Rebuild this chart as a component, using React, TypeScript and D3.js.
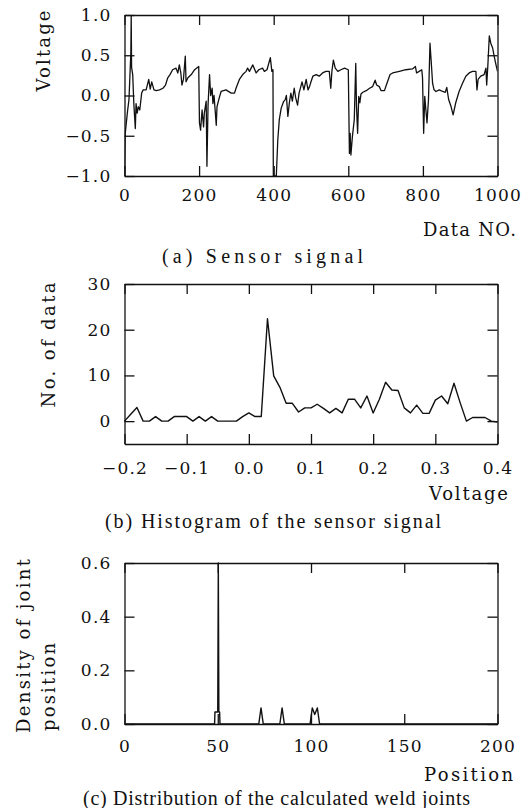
import React, { useEffect, useRef } from 'react'
import * as d3 from 'd3'

// (a) sensor signal: [data no., voltage] vertices
const sensorSignal: [number, number][] = [
  [0, -1.0], [2, -0.47], [8, -0.2], [12, -0.05], [15, 0.3], [17, 0.53], [18, 1.0], [19, 0.35],
  [22, 0.26], [25, -0.1], [29, -0.41], [31, -0.1], [34, -0.22], [37, -0.14], [41, -0.18], [46, 0.03],
  [50, 0.07], [58, 0.07], [65, 0.2], [69, 0.08], [73, 0.17], [79, 0.07], [85, 0.06], [94, 0.07],
  [103, 0.09], [110, 0.13], [116, 0.22], [122, 0.26], [129, 0.32], [138, 0.34], [143, 0.28], [147, 0.38],
  [151, 0.28], [154, 0.13], [158, 0.2], [163, 0.49], [165, 0.17], [170, 0.22], [179, 0.26], [188, 0.32],
  [199, 0.36], [201, -0.34], [204, -0.43], [208, -0.18], [212, -0.39], [214, -0.22], [219, -0.07], [221, -0.88],
  [224, -0.12], [228, 0.26], [231, 0.0], [235, 0.09], [237, -0.1], [240, 0.0], [243, -0.18], [246, -0.37],
  [248, -0.14], [254, -0.03], [259, 0.05], [272, 0.07], [286, 0.03], [295, 0.03], [299, 0.09], [308, 0.2],
  [317, 0.26], [326, 0.3], [330, 0.34], [335, 0.3], [344, 0.38], [353, 0.28], [360, 0.32], [370, 0.34],
  [375, 0.3], [382, 0.32], [391, 0.47], [395, 0.3], [398, 0.32], [399, -1.0], [407, -1.0], [411, -0.55],
  [415, -0.3], [420, -0.16], [426, -0.08], [431, -0.05], [434, 0.0], [438, -0.26], [442, -0.09], [446, 0.03],
  [450, -0.07], [455, 0.09], [459, -0.03], [464, -0.12], [468, 0.03], [476, 0.17], [481, 0.07], [487, 0.2],
  [492, 0.07], [496, 0.11], [500, 0.17], [505, 0.24], [514, 0.26], [522, 0.24], [531, 0.28], [540, 0.3],
  [549, 0.3], [553, 0.09], [556, 0.3], [560, 0.44], [565, 0.34], [572, 0.3], [580, 0.32], [590, 0.34],
  [600, 0.32], [603, -0.72], [605, -0.47], [607, -0.74], [611, -0.51], [616, -0.3], [620, 0.4], [622, -0.14],
  [625, -0.47], [628, -0.01], [631, -0.09], [634, 0.02], [639, 0.04], [648, 0.06], [657, 0.09], [665, 0.11],
  [672, 0.19], [676, 0.13], [683, 0.11], [688, 0.06], [697, 0.06], [702, 0.13], [712, 0.26], [719, 0.28],
  [737, 0.3], [754, 0.32], [772, 0.33], [780, 0.36], [783, 0.28], [790, 0.3], [797, 0.32], [799, 0.22],
  [802, -0.47], [805, -0.01], [808, -0.18], [811, -0.34], [815, -0.05], [819, 0.65], [822, 0.44], [826, 0.15],
  [830, 0.07], [835, 0.05], [844, 0.07], [853, 0.05], [860, 0.04], [864, 0.1], [869, -0.05], [875, -0.13],
  [881, -0.24], [888, -0.09], [897, 0.05], [906, 0.15], [915, 0.24], [924, 0.28], [933, 0.3], [942, 0.3],
  [945, 0.07], [948, 0.2], [955, 0.24], [964, 0.26], [969, 0.34], [971, 0.13], [974, 0.36], [978, 0.74],
  [982, 0.65], [987, 0.59], [991, 0.49], [996, 0.38], [1000, 0.3],
]
const ticksA_x = [0, 200, 400, 600, 800, 1000]
const ticksA_y = [-1.0, -0.5, 0.0, 0.5, 1.0]

// (b) histogram of the sensor signal
const histVoltage = [
  -0.2, -0.19, -0.18, -0.17, -0.16, -0.15, -0.14, -0.13, -0.12, -0.11, -0.1,
  -0.09, -0.08, -0.07, -0.06, -0.05, -0.04, -0.03, -0.02, -0.01, 0.0,
  0.01, 0.02, 0.03, 0.04, 0.05, 0.06, 0.07, 0.08, 0.09, 0.1,
  0.11, 0.12, 0.13, 0.14, 0.15, 0.16, 0.17, 0.18, 0.19, 0.2,
  0.21, 0.22, 0.23, 0.24, 0.25, 0.26, 0.27, 0.28, 0.29, 0.3,
  0.31, 0.32, 0.33, 0.34, 0.35, 0.36, 0.37, 0.38, 0.39, 0.4,
]
const histCount = [
  0, 1.5, 3, 0, 0, 1, 0, 0, 1, 1, 1,
  0, 1, 0, 1, 0, 0, 0, 0, 1, 1.8,
  1, 1, 22.4, 9.9, 7.4, 3.9, 3.9, 2, 2.9, 2.9,
  3.7, 2.8, 1.8, 2.8, 1.8, 4.8, 4.8, 2.9, 5.5, 1.8,
  4.8, 8.5, 6.8, 6.7, 2.9, 1.8, 3.5, 1.7, 1.7, 4.6,
  5.5, 3.8, 8.3, 4, 0, 0.8, 0.8, 0.8, 0, -0.2,
]
const ticksB_x = [-0.2, -0.1, 0.0, 0.1, 0.2, 0.3, 0.4]
const ticksB_y = [0, 10, 20, 30]

// (c) distribution of the calculated weld joints
const jointPos = [0, 48.3, 48.5, 50, 50.3, 50.6, 51, 51.2, 72, 73.2, 74.4, 83.3, 84.5, 85.7, 99.5, 100.7, 102, 103.4, 104.6, 200]
const jointDensity = [0, 0, 0.045, 0.045, 0.6, 0.045, 0.045, 0, 0, 0.06, 0, 0, 0.06, 0, 0, 0.06, 0.035, 0.06, 0, 0]
const ticksC_x = [0, 50, 100, 150, 200]
const ticksC_y = [0.0, 0.2, 0.4, 0.6]

const X0 = 124.5
const X1 = 497.5
const NUM_FONT = 'DejaVu Serif'
const LAB_FONT = 'DejaVu Serif'
const CAP_FONT = 'Liberation Serif'

function drawFrame(svg, x, y, top, bottom, xt, yt, fx, fy, padX) {
  const g = svg.append('g')
  g.append('g').attr('transform', `translate(0,${bottom})`)
    .call(d3.axisBottom(x).tickValues(xt).tickSizeInner(-10).tickSizeOuter(0).tickPadding(padX).tickFormat(fx))
  g.append('g').attr('transform', `translate(0,${top})`)
    .call(d3.axisTop(x).tickValues(xt).tickSizeInner(-10).tickSizeOuter(0).tickFormat(() => ''))
  g.append('g').attr('transform', `translate(${X0},0)`)
    .call(d3.axisLeft(y).tickValues(yt).tickSizeInner(-10).tickSizeOuter(0).tickPadding(13).tickFormat(fy))
  g.append('g').attr('transform', `translate(${X1},0)`)
    .call(d3.axisRight(y).tickValues(yt).tickSizeInner(-10).tickSizeOuter(0).tickFormat(() => ''))
  g.selectAll('.domain, .tick line').attr('stroke', '#111').attr('stroke-width', 1.3)
  g.selectAll('text')
    .attr('font-family', NUM_FONT)
    .attr('font-size', 17)
    .attr('letter-spacing', 1.2)
    .attr('fill', '#111')
  return g
}

function label(svg, text, x, y, len, opts: any = {}) {
  const t = svg.append('text')
    .attr('font-family', opts.font || LAB_FONT)
    .attr('font-size', opts.size || 18)
    .attr('fill', '#111')
    .attr('textLength', len)
    .attr('lengthAdjust', 'spacing')
    .attr('text-anchor', opts.anchor || 'start')
    .text(text)
  if (opts.rotate) t.attr('transform', `translate(${x},${y}) rotate(-90)`)
  else t.attr('x', x).attr('y', y)
  return t
}

export default function App() {
  const ref = useRef<SVGSVGElement>(null)

  useEffect(() => {
    const svg = d3.select(ref.current)
    svg.selectAll('*').remove()
    const fmt1 = d3.format('.1f')

    // ---- (a) Sensor signal
    const xa = d3.scaleLinear().domain([0, 1000]).range([X0, X1])
    const ya = d3.scaleLinear().domain([-1, 1]).range([176, 15])
    svg.append('clipPath').attr('id', 'clipA').append('rect')
      .attr('x', X0).attr('y', 15).attr('width', X1 - X0).attr('height', 161)
    svg.append('path')
      .datum(sensorSignal)
      .attr('clip-path', 'url(#clipA)')
      .attr('fill', 'none').attr('stroke', '#111').attr('stroke-width', 1.3)
      .attr('stroke-linejoin', 'round')
      .attr('d', d3.line<[number, number]>().x((d) => xa(d[0])).y((d) => ya(d[1])))
    drawFrame(svg, xa, ya, 15, 176, ticksA_x, ticksA_y, d3.format('d'), fmt1, 13)
    label(svg, 'Voltage', 50, 51, 81, { rotate: true, anchor: 'middle' })
    label(svg, 'Data NO.', 516, 236, 93, { anchor: 'end' })
    label(svg, '(a) Sensor signal', 162, 263, 201, { font: CAP_FONT, size: 20 })

    // ---- (b) Histogram
    const xb = d3.scaleLinear().domain([-0.2, 0.4]).range([X0, X1])
    const yb = d3.scaleLinear().domain([-5, 30]).range([444, 284])
    svg.append('path')
      .datum(histVoltage.map((v, i) => [v, histCount[i]]))
      .attr('fill', 'none').attr('stroke', '#111').attr('stroke-width', 1.4)
      .attr('stroke-linejoin', 'round')
      .attr('d', d3.line<number[]>().x((d) => xb(d[0])).y((d) => yb(d[1])))
    drawFrame(svg, xb, yb, 284, 444, ticksB_x, ticksB_y, fmt1, d3.format('d'), 18)
    label(svg, 'No. of data', 55, 345, 125, { rotate: true, anchor: 'middle' })
    label(svg, 'Voltage', 508, 500, 79, { anchor: 'end' })
    label(svg, '(b) Histogram of the sensor signal', 105, 528, 336, { font: CAP_FONT, size: 20 })

    // ---- (c) Distribution of weld joints
    const xc = d3.scaleLinear().domain([0, 200]).range([X0, X1])
    const yc = d3.scaleLinear().domain([0, 0.6]).range([724, 563])
    svg.append('path')
      .datum(jointPos.map((p, i) => [p, jointDensity[i]]))
      .attr('fill', 'none').attr('stroke', '#111').attr('stroke-width', 1.4)
      .attr('stroke-linejoin', 'round')
      .attr('d', d3.line<number[]>().x((d) => xc(d[0])).y((d) => yc(d[1])))
    drawFrame(svg, xc, yc, 563, 724, ticksC_x, ticksC_y, d3.format('d'), fmt1, 16)
    label(svg, 'Density of joint', 30, 733, 174, { rotate: true })
    label(svg, 'position', 55, 731, 88, { rotate: true })
    label(svg, 'Position', 513, 781, 89, { anchor: 'end' })
    label(svg, '(c) Distribution of the calculated weld joints', 83, 805, 387, { font: CAP_FONT, size: 20 })
  }, [])

  return (
    <div style={{ position: 'absolute', left: 0, top: 0 }}>
      <svg ref={ref} width={529} height={808} style={{ display: 'block', background: '#fff' }} />
    </div>
  )
}
